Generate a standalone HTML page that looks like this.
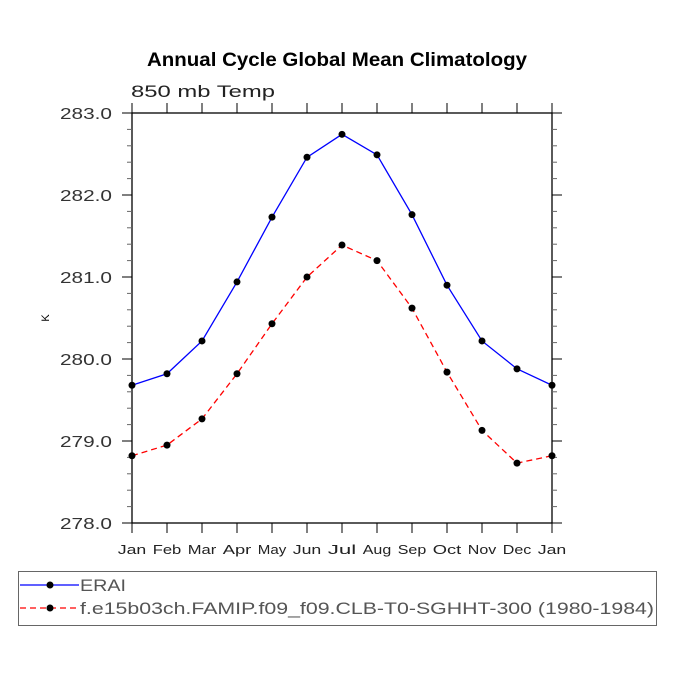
<!DOCTYPE html>
<html><head><meta charset="utf-8"><style>
body{margin:0;background:#fff}
svg text{font-family:"Liberation Sans",sans-serif}
</style></head><body>
<svg id="c" width="675" height="675" viewBox="0 0 675 675">
<text x="337" y="66" text-anchor="middle" font-size="19" font-weight="bold" textLength="380" lengthAdjust="spacingAndGlyphs">Annual Cycle Global Mean Climatology</text>
<text x="131" y="97" font-size="17" fill="#222" textLength="144" lengthAdjust="spacingAndGlyphs">850 mb Temp</text>
<text x="49" y="318" font-size="11" transform="rotate(-90 49 318)" text-anchor="middle">K</text>
<g id="axes"></g>
<g id="series"></g>
<rect x="18.5" y="571.5" width="638" height="54" fill="none" stroke="#666"/>
<g>
<line x1="20" y1="585" x2="79" y2="585" stroke="#00f" stroke-width="1.3"/>
<circle cx="50" cy="585" r="3.5" fill="#000"/>
<text x="80" y="591" font-size="17" fill="#555" textLength="46" lengthAdjust="spacingAndGlyphs">ERAI</text></g>
<g>
<line x1="20" y1="608" x2="79" y2="608" stroke="#f00" stroke-width="1.3" stroke-dasharray="6,4"/>
<circle cx="50" cy="608" r="3.5" fill="#000"/>
<text x="80" y="614" font-size="17" fill="#555" textLength="574" lengthAdjust="spacingAndGlyphs">f.e15b03ch.FAMIP.f09_f09.CLB-T0-SGHHT-300 (1980-1984)</text></g>
</svg>
<script>
const months=["Jan","Feb","Mar","Apr","May","Jun","Jul","Aug","Sep","Oct","Nov","Dec","Jan"];
const erai=[279.68,279.82,280.22,280.94,281.73,282.46,282.74,282.49,281.76,280.90,280.22,279.88,279.68];
const model=[278.82,278.95,279.27,279.82,280.43,281.00,281.39,281.20,280.62,279.84,279.13,278.73,278.82];
const yTicks=[278,279,280,281,282,283];
const L=132,R=552,T=113,B=523,yMin=278,yMax=283;
const NS="http://www.w3.org/2000/svg";
function x(i){return L+(R-L)*i/(months.length-1);}
function y(v){return B-(v-yMin)/(yMax-yMin)*(B-T);}
function mk(t,a,p){const e=document.createElementNS(NS,t);for(const k in a)e.setAttribute(k,a[k]);p.appendChild(e);return e;}
const ax=document.getElementById('axes');
const fr=mk('rect',{x:L,y:T,width:R-L,height:B-T,fill:'none',stroke:'#000','stroke-width':1.3},ax);


months.forEach((m,i)=>{
 mk('line',{x1:x(i),y1:B,x2:x(i),y2:B+10,stroke:'#000'},ax);
 mk('line',{x1:x(i),y1:T,x2:x(i),y2:T-10,stroke:'#000'},ax);
 const t=mk('text',{x:x(i),y:554,'text-anchor':'middle','font-size':13,fill:'#222',textLength:m.length*9.5,lengthAdjust:'spacingAndGlyphs'},ax);t.textContent=m;
 
 
});
for(let v=yMin;v<=yMax+1e-9;v+=0.2){
 const major=Math.abs(v-Math.round(v))<1e-6;
 const len=major?10:5;
 mk('line',{x1:L-len,y1:y(v),x2:L,y2:y(v),stroke:major?'#000':'#666'},ax);
 mk('line',{x1:R,y1:y(v),x2:R+len,y2:y(v),stroke:major?'#000':'#666'},ax);
}
yTicks.forEach(v=>{const t=mk('text',{x:112,y:y(v)+6,'text-anchor':'end','font-size':16,fill:'#333',textLength:52,lengthAdjust:'spacingAndGlyphs'},ax);t.textContent=v.toFixed(1);
 
 });
const sg=document.getElementById('series');
function draw(d,col,dash,name){
 const p=mk('polyline',{points:d.map((v,i)=>x(i)+','+y(v)).join(' '),fill:'none',stroke:col,'stroke-width':1.3,'stroke-dasharray':dash},sg);
 
 
 d.forEach((v,i)=>{const c=mk('circle',{cx:x(i),cy:y(v),r:3.5,fill:'#000'},sg);
  
  });
}
draw(erai,'#00f','none','erai');
draw(model,'#f00','6,4','model');
</script>
</body></html>
